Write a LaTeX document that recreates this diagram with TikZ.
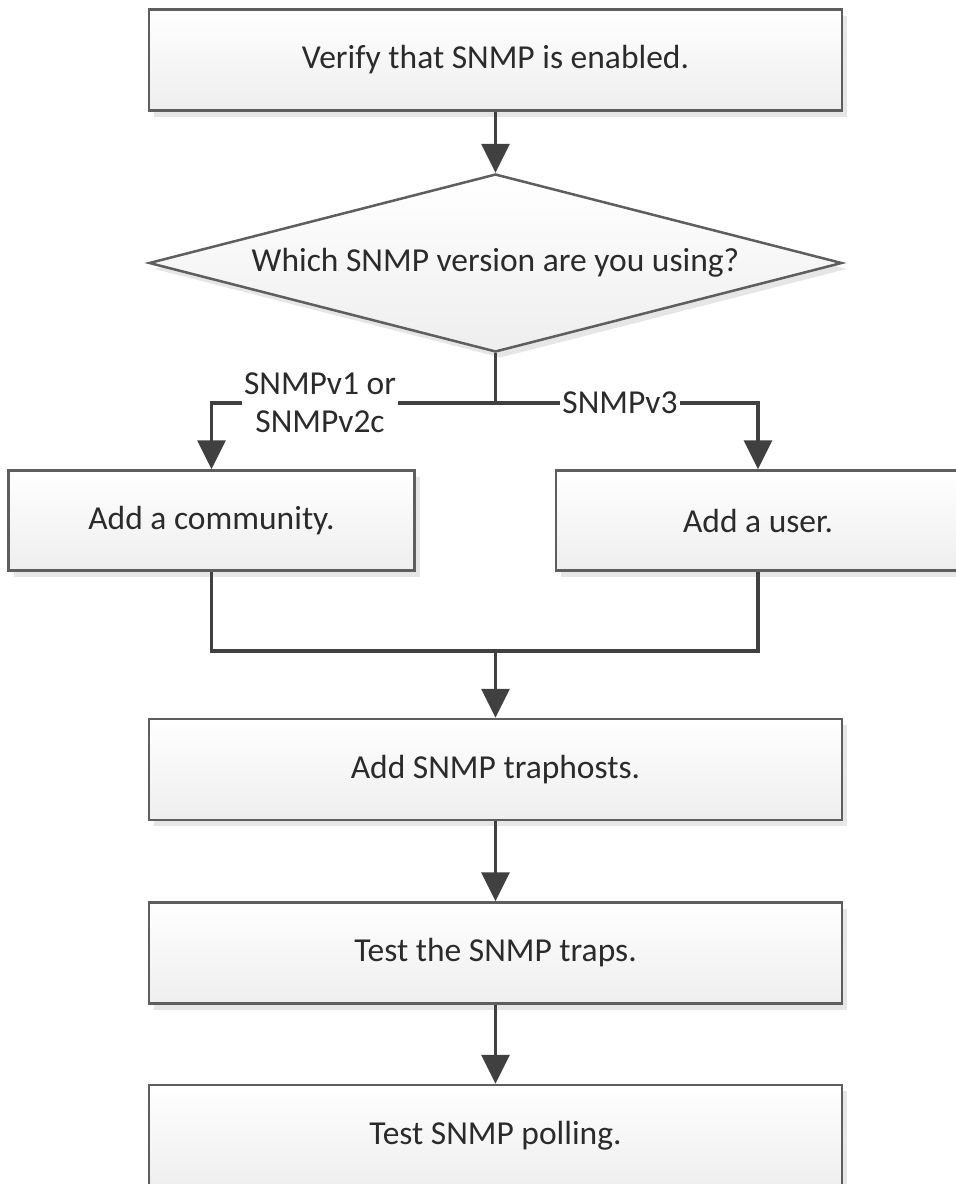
\documentclass[tikz,border=0pt]{standalone}
\usepackage{fontspec}
\setmainfont{Carlito}
\usetikzlibrary{shapes.geometric,shadows,arrows.meta}
\definecolor{linec}{HTML}{404040}
\definecolor{borderc}{HTML}{5E5E5E}
\definecolor{textc}{HTML}{2B2B2B}
\definecolor{shadowc}{HTML}{E6E6E6}
\definecolor{fillbot}{HTML}{EEEEEE}
\tikzset{
  stepbox/.style={rectangle, draw=borderc, line width=2.5pt, top color=white, bottom color=fillbot,
    minimum width=693pt, minimum height=101pt, inner sep=0pt, text=textc,
    font=\fontsize{33.5}{38}\selectfont,
    drop shadow={shadow xshift=5pt, shadow yshift=-6pt, fill=shadowc, opacity=1}},
  smallbox/.style={stepbox, minimum width=406pt, minimum height=100pt},
  decision/.style={diamond, aspect=3.893, draw=borderc, line width=2.5pt, top color=white, bottom color=fillbot,
    minimum width=693pt, minimum height=178pt, inner sep=0pt, text=textc,
    font=\fontsize{33.5}{38}\selectfont,
    drop shadow={shadow xshift=5pt, shadow yshift=-6pt, fill=shadowc, opacity=1}},
  conn/.style={draw=linec, line width=3.5pt},
  arrowc/.style={conn, -{Triangle[length=29pt,width=28pt]}},
  lbl/.style={fill=white, text=textc, align=center, inner sep=2pt, font=\fontsize{33.5}{38}\selectfont}
}
\begin{document}
\begin{tikzpicture}[x=1pt,y=-1pt]
\useasboundingbox[fill=white] (0,0) rectangle (956,1184);
\node[stepbox] (v) at (495.5,60) {Verify that SNMP is enabled.};
\node[decision] (d) at (495.5,263) {Which SNMP version are you using?};
\node[smallbox] (comm) at (211.5,520.5) {Add a community.};
\node[smallbox, minimum width=404pt] (user) at (758,520.5) {Add a user.};
\node[stepbox] (trap) at (495.5,769.5) {Add SNMP traphosts.};
\node[stepbox] (traps) at (495.5,953) {Test the SNMP traps.};
\node[stepbox] (poll) at (495.5,1135.5) {Test SNMP polling.};
\coordinate (split) at (495.5,403);
\coordinate (merge) at (495.5,651);
\draw[arrowc] (v) -- (d);
\draw[conn] (d.south) -- (split);
\draw[arrowc] (split) -| (comm.north);
\draw[arrowc] (split) -| (user.north);
\node[lbl] (l1) at (320,403) {SNMPv1 or\\SNMPv2c};
\node[lbl] (l3) at (620,403) {SNMPv3};
\draw[conn] (comm.south) |- (merge) -| (user.south);
\draw[arrowc] (merge) -- (trap.north);
\draw[arrowc] (trap) -- (traps);
\draw[arrowc] (traps) -- (poll);
\end{tikzpicture}
\end{document}
